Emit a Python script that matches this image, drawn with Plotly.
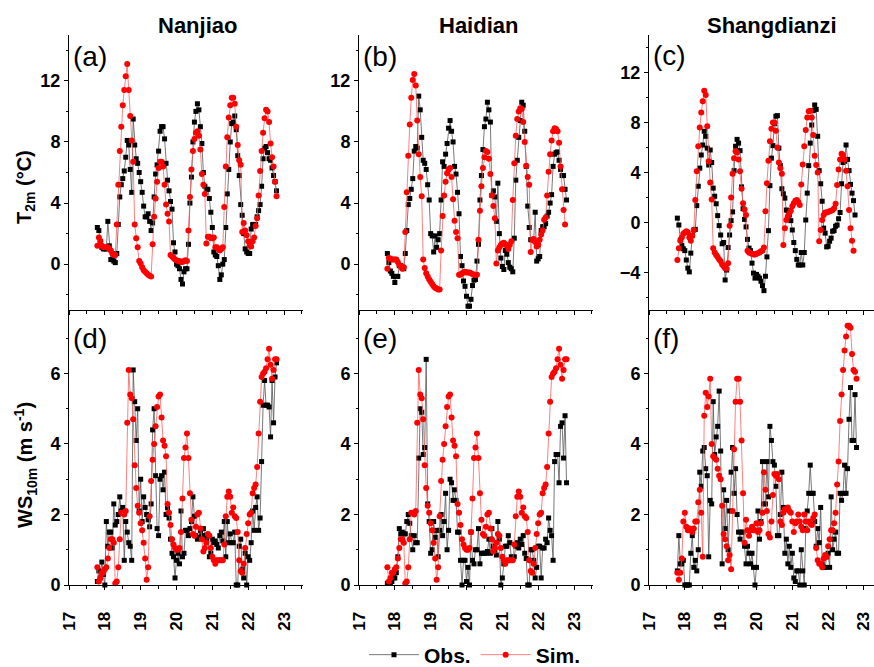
import plotly.graph_objects as go

# hourly time axis (day of month), starting 17th 19:00
T = [17 + (19 + i) / 24 for i in range(121)]

stations = ["Nanjiao", "Haidian", "Shangdianzi"]

t2m_obs_nanjiao = [2.4, 2.2, 1.5, 1.1, 1.0, 1.0, 1.0, 2.8, 1.2, 0.3,
    0.3, 0.2, 0.1, 0.7, 2.6, 4.4, 5.2, 5.6, 6.1, 7.0,
    8.1, 7.8, 6.2, 4.7, 9.5, 7.8, 6.9, 6.6, 6.0, 5.4,
    4.7, 3.8, 3.1, 3.1, 3.3, 2.8, 2.2, 2.7, 4.4, 5.9,
    6.5, 7.4, 8.7, 9.0, 9.0, 8.2, 6.6, 5.5, 4.8, 4.1,
    3.6, 1.4, 0.8, 0.0, -0.1, -0.3, -1.0, -1.3, -0.5, -0.3,
    -0.3, 1.3, 4.0, 5.7, 8.0, 9.3, 10.0, 10.5, 10.1, 9.0,
    7.9, 6.0, 5.1, 4.9, 4.9, 4.3, 3.4, 2.4, 0.8, 0.6,
    0.5, -0.1, -1.0, -0.7, 0.0, 0.3, 2.4, 4.6, 6.2, 8.0,
    9.2, 9.3, 9.7, 8.8, 7.1, 5.8, 3.9, 3.2, 2.0, 1.0,
    0.8, 0.7, 0.7, 2.3, 2.6, 2.5, 2.6, 3.1, 3.5, 3.9,
    5.1, 6.9, 7.6, 7.7, 7.3, 6.9, 6.8, 6.3, 5.8, 5.4,
    4.8]
t2m_sim_nanjiao = [1.2, 1.75, 1.5, 1.2, 1.1, 1.1, 1.1, 1.1, 1.0, 0.9,
    0.7, 0.6, 0.6, 2.6, 5.2, 7.4, 9.0, 10.4, 11.4, 12.3,
    13.1, 11.4, 9.7, 8.1, 6.7, 2.6, 1.7, 1.1, 0.2, 0.05,
    -0.2, -0.4, -0.5, -0.6, -0.7, -0.75, -0.8, 1.3, 3.1, 4.3,
    5.4, 6.3, 6.7, 6.7, 6.4, 5.2, 3.9, 3.3, 2.8, 0.6,
    0.5, 0.4, 0.3, 0.25, 0.2, 0.2, 0.15, 0.15, 0.2, 0.25,
    0.2, 2.2, 4.4, 6.2, 7.4, 8.2, 8.6, 8.7, 8.4, 7.5,
    5.9, 5.2, 4.6, 1.35, 1.8, 1.8, 1.7, 1.7, 1.75, 1.1,
    1.1, 1.0, 0.9, 1.0, 1.1, 3.75, 6.4, 8.3, 9.6, 10.4,
    10.9, 10.9, 10.5, 9.0, 7.8, 6.8, 6.5, 2.1, 2.7, 2.2,
    1.9, 1.5, 1.2, 1.15, 1.5, 1.75, 2.5, 3.0, 4.5, 6.1,
    7.4, 8.6, 9.55, 10.1, 10.0, 9.3, 7.9, 7.0, 6.4, 5.4,
    4.45]

t2m_obs_haidian = [0.7, 0.1, -0.45, -0.6, -0.8, -1.2, -0.8, -0.8, -0.1, -0.1,
    -0.2, -0.3, 0.7, 2.2, 3.9, 4.3, 4.9, 5.6, 7.4, 7.7,
    7.6, 11.0, 10.1, 8.3, 6.8, 6.6, 6.2, 5.2, 4.2, 2.0,
    1.85, 0.8, 1.85, 1.1, 1.6, 2.0, 4.2, 6.7, 6.4, 7.2,
    7.9, 8.9, 9.4, 8.7, 8.0, 6.4, 5.9, 4.7, 3.3, 0.5,
    -0.1, -1.1, -1.45, -2.1, -2.75, -2.75, -2.3, -1.4, -1.05, -1.0,
    0.2, 1.3, 4.2, 5.8, 7.5, 9.0, 9.5, 10.6, 10.1, 9.3,
    4.5, 4.8, 4.4, 2.8, 5.3, 2.0, 0.4, -0.15, -0.35, 0.9,
    0.65, 0.1, -0.2, -0.3, -0.5, 1.7, 5.5, 6.8, 8.3, 9.4,
    10.6, 10.4, 8.7, 6.4, 3.8, 2.4, 1.6, 1.6, 1.6, 3.4,
    0.2, 0.35, 0.5, 2.2, 2.45, 2.45, 2.65, 3.15, 3.4, 4.0,
    4.55, 6.4, 7.2, 7.3, 7.35, 6.8, 6.2, 5.8, 5.8, 4.9,
    4.2]
t2m_sim_haidian = [-0.3, 0.4, 0.35, 0.3, 0.3, 0.3, 0.3, 0.15, -0.05, -0.15,
    -0.3, -0.2, 2.1, 4.7, 7.1, 9.15, 10.9, 12.05, 12.45, 11.7,
    9.4, 7.2, 5.7, 4.45, 0.3, -0.25, -0.6, -0.8, -1.0, -1.15,
    -1.3, -1.45, -1.55, -1.6, -1.65, -1.65, 0.9, 3.15, 4.5, 5.4,
    5.95, 6.2, 6.3, 5.7, 4.25, 2.85, 2.1, 1.7, -0.7, -0.7,
    -0.6, -0.55, -0.5, -0.55, -0.55, -0.55, -0.6, -0.65, -0.7, -0.7,
    -0.7, 1.6, 3.5, 5.1, 6.3, 7.0, 7.4, 7.35, 6.9, 5.9,
    4.5, 3.8, 3.0, 0.05, 0.9, 1.1, 1.25, 1.35, 1.4, 1.3,
    1.2, 1.0, 1.25, 1.5, 4.2, 6.6, 8.4, 9.5, 10.0, 10.2,
    10.15, 9.3, 8.0, 6.45, 5.7, 5.2, 0.8, 1.6, 1.65, 1.45,
    1.15, 1.25, 1.6, 1.95, 2.2, 2.9, 3.05, 4.5, 6.05, 7.2,
    8.1, 8.7, 8.9, 8.85, 8.7, 7.95, 6.4, 4.9, 3.55, 2.6]

t2m_obs_shangdianzi = [0.35, -0.2, -1.4, -1.85, -2.1, -2.25, -3.0, -3.65, -3.95, -2.45,
    -1.05, -0.6, -0.55, 1.35, 2.9, 4.35, 5.4, 6.2, 7.3, 6.9,
    5.95, 4.6, 5.8, 4.8, 2.75, 2.1, 1.5, 0.55, -0.25, -1.0,
    -1.7, -1.6, -4.6, -3.8, -2.0, -1.0, 0.15, 0.85, 4.15, 6.1,
    6.65, 6.35, 5.75, 2.85, 1.1, 0.25, -0.35, -1.35, -2.05, -2.25,
    -3.25, -4.05, -4.45, -4.15, -4.3, -4.45, -4.7, -5.05, -5.45, -4.3,
    -2.75, -0.65, 2.95, 5.15, 6.15, 7.9, 8.5, 8.55, 5.95, 4.55,
    2.7, 2.3, 1.95, 1.0, 0.95, 0.6, 0.15, -0.6, -1.6, -2.25,
    -2.95, -3.4, -3.4, -2.4, -3.4, -2.4, 0.2, 2.35, 4.55, 6.35,
    7.8, 8.95, 9.4, 9.05, 6.9, 4.15, 3.1, 1.7, -0.45, -0.85,
    -1.95, -1.9, -1.5, -1.25, -0.7, -0.65, -0.3, -0.2, 0.3, 0.8,
    3.1, 4.8, 4.9, 6.2, 5.05, 4.15, 3.05, 2.35, 1.75, 0.6]
t2m_sim_shangdianzi = [-3.0, -2.05, -1.45, -1.2, -0.9, -0.8, -0.7, -0.8, -1.2, -1.45,
    -1.05, -0.6, 1.8, 4.1, 6.1, 7.6, 8.8, 9.7, 10.55, 10.2,
    7.7, 4.9, 3.2, 1.85, -2.05, -2.4, -2.6, -2.75, -2.95, -3.1,
    -3.35, -3.5, -3.65, -3.7, -3.25, -0.25, 2.0, 3.9, 5.15, 5.7,
    5.6, 5.05, 4.1, 2.7, 1.55, 1.05, 0.6, -2.25, -2.4, -2.45,
    -2.5, -2.55, -2.55, -2.5, -2.45, -2.4, -2.3, -2.25, -2.0, 0.9,
    3.15, 4.95, 6.5, 7.5, 8.0, 8.0, 7.35, 6.0, 4.8, 4.35,
    3.9, -1.8, -0.45, 0.2, 0.5, 0.75, 0.95, 1.3, 1.55, 1.75,
    1.8, 1.65, 1.4, 3.05, 4.65, 6.1, 7.4, 8.4, 8.9, 8.95,
    8.4, 7.0, 5.35, 4.6, 4.0, -1.5, -0.6, 0.2, 0.6, 0.8,
    0.8, 0.85, 0.9, 0.95, 1.0, 1.15, 1.5, 3.0, 4.25, 5.05,
    5.5, 5.4, 5.05, 4.15, 2.9, 1.0, -0.45, -1.45, -2.25]

ws_obs_nanjiao = [0.1, 0.4, 0.2, 0.65, 0.3, 0.0, 1.8, 1.1, 1.5, 1.5,
    1.05, 2.3, 1.7, 1.8, 2.0, 2.5, 2.1, 2.2, 0.7, 1.8,
    1.5, 1.2, 1.1, 0.7, 6.1, 5.2, 4.1, 5.0, 2.1, 3.0,
    1.8, 2.5, 2.2, 2.0, 1.85, 1.65, 2.3, 4.4, 5.0, 3.1,
    1.6, 1.4, 3.0, 3.1, 2.7, 3.2, 2.0, 2.2, 1.9, 1.3,
    0.9, 0.8, 0.2, 0.7, 0.9, 0.6, 2.1, 0.8, 0.9, 1.55,
    1.55, 1.4, 1.6, 1.8, 2.5, 1.95, 1.4, 1.3, 1.35, 1.55,
    1.4, 1.6, 1.4, 1.3, 1.4, 0.8, 0.9, 1.3, 1.2, 1.25,
    1.15, 1.05, 1.4, 1.5, 1.25, 1.8, 0.8, 1.8, 1.2, 1.45,
    1.2, 1.2, 1.5, 0.0, 0.0, 1.1, 1.3, 0.45, 0.2, 0.9,
    0.0, 0.8, 0.7, 1.2, 2.1, 1.55, 2.2, 2.5, 1.55, 1.9,
    3.5, 5.1, 5.8, 5.1, 5.1, 5.05, 4.2, 5.8, 4.6, 5.9,
    6.3]
ws_sim_nanjiao = [0.5, 0.1, 0.2, 0.35, 0.35, 0.45, 0.5, 0.75, 1.05, 1.3,
    1.3, 1.2, 0.05, 0.1, 0.5, 1.3, 2.05, 2.05, 2.0, 2.1,
    4.6, 6.1, 5.4, 5.3, 4.7, 3.4, 2.75, 2.25, 2.05, 1.75,
    1.55, 1.2, 0.75, 0.15, 0.5, 1.95, 2.95, 3.55, 4.0, 4.5,
    5.05, 5.35, 5.4, 4.75, 4.1, 3.95, 3.65, 2.3, 2.05, 1.7,
    1.3, 1.15, 1.05, 1.0, 1.0, 1.05, 1.5, 2.45, 3.6, 3.9,
    4.3, 3.6, 2.6, 1.85, 1.45, 1.4, 1.65, 2.0, 2.05, 1.6,
    1.3, 0.95, 1.05, 1.2, 1.45, 1.4, 1.05, 0.8, 0.7, 0.6,
    0.7, 0.7, 0.7, 0.7, 0.7, 1.15, 1.95, 2.5, 2.65, 2.5,
    2.05, 2.2, 1.95, 1.9, 1.5, 0.7, 0.4, 0.35, 0.6, 1.05,
    1.45, 1.75, 2.0, 2.05, 2.6, 2.75, 2.85, 3.35, 4.3, 5.2,
    5.9, 6.0, 6.05, 6.15, 6.4, 6.7, 6.25, 5.85, 6.1, 6.4,
    6.4]

ws_obs_haidian = [0.05, 0.05, 0.05, 0.1, 0.2, 0.2, 0.35, 0.8, 1.6, 1.45,
    1.5, 1.45, 1.45, 1.8, 2.0, 1.75, 1.4, 1.0, 1.4, 1.2,
    1.2, 3.6, 5.0, 4.9, 3.7, 3.9, 6.4, 2.3, 1.8, 0.9,
    1.0, 1.8, 1.35, 1.55, 0.8, 1.55, 2.0, 1.4, 1.8, 2.6,
    1.0, 1.55, 3.0, 2.9, 2.4, 2.7, 2.4, 1.5, 1.5, 0.7,
    0.0, 0.7, 0.7, 0.1, 0.5, 0.0, 1.5, 0.7, 0.6, 1.0,
    1.0, 1.6, 0.6, 0.9, 0.9, 0.9, 0.9, 0.95, 1.3, 0.9,
    1.6, 1.1, 1.0, 0.85, 1.8, 1.3, 0.0, 0.2, 0.6, 1.1,
    1.1, 1.4, 1.2, 0.8, 0.75, 0.8, 1.1, 1.2, 1.05, 1.3,
    1.15, 1.4, 0.9, 0.75, 0.0, 0.0, 1.0, 1.0, 0.7, 0.2,
    0.5, 1.1, 1.1, 0.2, 1.05, 1.05, 1.3, 1.2, 1.9, 1.55,
    1.4, 0.7, 3.5, 3.7, 3.7, 2.9, 4.5, 4.6, 3.6, 4.8,
    2.9]
ws_sim_haidian = list(ws_sim_nanjiao)  # same model grid cell in the figure

ws_obs_shangdianzi = [0.4, 1.4, 0.6, 0.6, 0.7, 0.0, 0.0, 0.0, 0.0, 0.9,
    1.4, 0.5, 0.7, 0.4, 1.0, 3.2, 2.8, 3.8, 3.9, 3.3,
    3.1, 0.8, 2.4, 2.3, 5.2, 3.7, 4.2, 4.5, 5.5, 3.8,
    0.6, 2.7, 1.6, 2.4, 1.0, 2.1, 3.2, 3.9, 2.6, 3.3,
    2.0, 1.5, 1.3, 1.5, 1.5, 1.1, 0.6, 1.1, 0.9, 0.6,
    0.9, 0.5, 0.0, 0.5, 2.1, 1.3, 1.8, 3.5, 2.3, 2.3,
    3.5, 2.5, 4.5, 4.1, 3.5, 3.4, 2.8, 1.4, 1.4, 2.0,
    3.2, 2.2, 0.9, 1.3, 0.6, 1.1, 0.5, 0.9, 0.2, 0.1,
    0.4, 0.4, 0.0, 1.0, 0.4, 0.0, 1.6, 2.1, 2.6, 3.4,
    2.6, 2.6, 1.8, 1.1, 1.6, 1.2, 2.2, 0.6, 0.5, 0.5,
    0.8, 0.9, 0.5, 2.5, 1.0, 1.3, 1.5, 0.9, 0.9, 2.6,
    2.4, 2.6, 3.4, 2.6, 3.3, 4.7, 5.6, 4.1, 4.1, 5.4,
    3.9]
ws_sim_shangdianzi = [0.35, 0.15, 0.35, 0.75, 1.8, 2.05, 1.65, 1.55, 1.6, 1.55,
    1.5, 1.6, 1.8, 1.8, 2.35, 2.7, 2.05, 0.8, 4.8, 5.45,
    5.05, 5.35, 5.85, 4.0, 3.65, 3.6, 3.55, 3.3, 3.1, 3.0,
    2.25, 1.45, 1.3, 1.1, 0.7, 0.85, 0.45, 2.1, 3.85, 5.2,
    5.85, 5.85, 5.2, 4.1, 2.6, 1.2, 1.85, 1.55, 1.4, 1.55,
    1.65, 1.55, 1.55, 1.75, 1.5, 1.55, 1.75, 2.05, 3.2, 2.7,
    2.1, 1.45, 1.35, 1.8, 2.55, 3.15, 3.1, 3.15, 3.0, 1.8,
    1.7, 2.05, 2.15, 2.15, 2.2, 2.1, 2.05, 1.8, 1.5, 1.75,
    1.8, 2.0, 1.8, 1.65, 1.55, 2.0, 1.8, 1.55, 1.8, 1.75,
    1.7, 1.9, 2.0, 1.05, 0.7, 0.6, 0.6, 0.5, 0.75, 0.85,
    0.8, 1.1, 1.3, 1.55, 1.55, 1.75, 2.05, 2.85, 3.5, 4.65,
    5.4, 6.1, 6.65, 7.05, 7.35, 7.35, 7.3, 6.55, 6.1, 6.05,
    5.85]

panel_labels = ["(a)", "(b)", "(c)", "(d)", "(e)", "(f)"]
x_ticks = [17, 18, 19, 20, 21, 22, 23]

panels = [
    (t2m_obs_nanjiao, t2m_sim_nanjiao),
    (t2m_obs_haidian, t2m_sim_haidian),
    (t2m_obs_shangdianzi, t2m_sim_shangdianzi),
    (ws_obs_nanjiao, ws_sim_nanjiao),
    (ws_obs_haidian, ws_sim_haidian),
    (ws_obs_shangdianzi, ws_sim_shangdianzi),
]

W, H = 874, 667
ML, MR, MT, MB = 69, 0, 35, 82
PW = W - ML - MR
PH = H - MT - MB


def px(x):
    return (x - ML) / PW


def py(y):
    return (H - MB - y) / PH


col_dom = [[0, px(303)], [px(359), px(593)], [px(649), 1.0]]
row_dom = [[0.5, 1.0], [0.0, 0.5]]
x_ranges = [[17, 23.53], [17, 23.53], [17, 23.28]]
y_ranges = [[-3, 15], [-3, 15], [-7, 15], [0, 7.8], [0, 7.8], [0, 7.8]]
y_dticks = [4, 4, 4, 2, 2, 2]

FONT = "Liberation Sans, Arial, sans-serif"
fig = go.Figure()

for k, (obs, sim) in enumerate(panels):
    ax = "" if k == 0 else str(k + 1)
    fig.add_trace(go.Scatter(
        x=T[:len(obs)], y=obs, mode="lines+markers", name="Obs.",
        line=dict(color="#555555", width=0.8),
        marker=dict(symbol="square", size=5, color="black"),
        xaxis="x" + ax, yaxis="y" + ax, cliponaxis=False,
        showlegend=(k == 0), legendgroup="obs"))
    fig.add_trace(go.Scatter(
        x=T[:len(sim)], y=sim, mode="lines+markers", name="Sim.",
        line=dict(color="#ff6060", width=0.8),
        marker=dict(symbol="circle", size=6, color="#ff0000"),
        xaxis="x" + ax, yaxis="y" + ax, cliponaxis=False,
        showlegend=(k == 0), legendgroup="sim"))

layout = dict(
    width=W, height=H, margin=dict(l=ML, r=MR, t=MT, b=MB, autoexpand=False),
    plot_bgcolor="white", paper_bgcolor="white",
    font=dict(family=FONT, color="black"),
    legend=dict(orientation="h", x=px(475), xanchor="center",
                yref="container", y=(H - 655) / H, yanchor="middle",
                itemwidth=50,
                font=dict(family=FONT, size=21, weight="bold"),
                tracegroupgap=0, bgcolor="rgba(0,0,0,0)"),
)

for k in range(6):
    r, c = divmod(k, 3)
    sfx = "" if k == 0 else str(k + 1)
    layout["xaxis" + sfx] = dict(
        domain=col_dom[c], range=x_ranges[c], anchor="y" + sfx,
        showline=True, linecolor="black", linewidth=1,
        ticks="outside", ticklen=4, tickwidth=1, tickcolor="black",
        tickvals=x_ticks, showticklabels=(r == 1), tickangle=-90,
        ticklabelstandoff=15, automargin=False,
        tickfont=dict(family=FONT, size=17, weight="bold"),
        minor=dict(dtick=0.5, tick0=17, ticks="outside", ticklen=2.5,
                   tickcolor="black", tickwidth=1),
        showgrid=False, zeroline=False, fixedrange=True)
    layout["yaxis" + sfx] = dict(
        domain=row_dom[r], range=y_ranges[k], anchor="x" + sfx,
        showline=True, linecolor="black", linewidth=1,
        ticks="outside", ticklen=4, tickwidth=1, tickcolor="black",
        dtick=y_dticks[k], tick0=0, automargin=False,
        tickfont=dict(family=FONT, size=18, weight="bold"),
        minor=dict(dtick=y_dticks[k] / 2, tick0=0, ticks="outside",
                   ticklen=2.5, tickcolor="black", tickwidth=1),
        showgrid=False, zeroline=False, fixedrange=True)

annotations = []
title_x = [197, 478, 772]
for c, name in enumerate(stations):
    annotations.append(dict(
        text="<b>%s</b>" % name, x=px(title_x[c]), y=py(25),
        xref="paper", yref="paper", xanchor="center", yanchor="middle",
        showarrow=False, font=dict(family=FONT, size=22)))

lab_x = [71, 361, 651, 71, 361, 651]
lab_y = [56, 56, 55, 338, 338, 338]
for k, lab in enumerate(panel_labels):
    annotations.append(dict(
        text=lab, x=px(lab_x[k]), y=py(lab_y[k]), xref="paper", yref="paper",
        xanchor="left", yanchor="middle", showarrow=False,
        font=dict(family=FONT, size=28)))

annotations.append(dict(
    text="<b>T<sub>2m</sub> (°C)</b>", x=px(25), y=py(187),
    xref="paper", yref="paper", xanchor="center", yanchor="middle",
    textangle=-90, showarrow=False, font=dict(family=FONT, size=20)))
annotations.append(dict(
    text="<b>WS<sub>10m</sub> (m s<sup>-1</sup>)</b>", x=px(25), y=py(465),
    xref="paper", yref="paper", xanchor="center", yanchor="middle",
    textangle=-90, showarrow=False, font=dict(family=FONT, size=20)))

layout["annotations"] = annotations
fig.update_layout(**layout)
fig.write_html("out.html")
